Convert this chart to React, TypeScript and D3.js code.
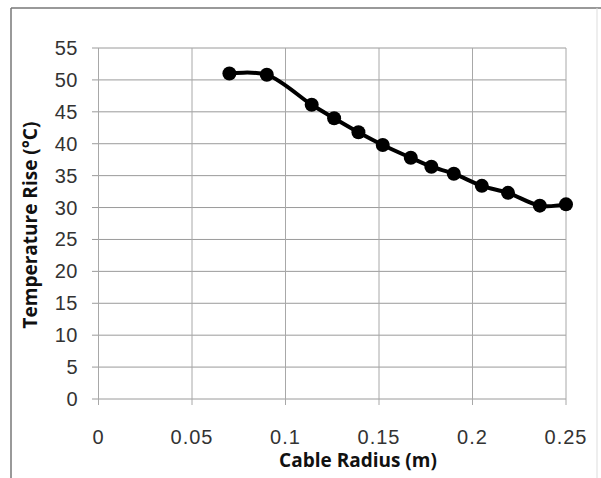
import React from "react";
import * as d3 from "d3";

const radius = [0.07, 0.09, 0.114, 0.126, 0.139, 0.152, 0.167, 0.178, 0.19, 0.205, 0.219, 0.236, 0.25];
const tempRise = [51.0, 50.8, 46.1, 44.0, 41.8, 39.8, 37.8, 36.4, 35.3, 33.4, 32.3, 30.3, 30.5];
const xTicks = [0, 0.05, 0.1, 0.15, 0.2, 0.25];
const yTicks = [0, 5, 10, 15, 20, 25, 30, 35, 40, 45, 50, 55];
const xTitle = "Cable Radius (m)";
const yTitle = "Temperature Rise (°C)";

export default function App() {
  const W = 601, H = 478;
  const x = d3.scaleLinear().domain([0, 0.25]).range([98.5, 566]);
  const y = d3.scaleLinear().domain([0, 55]).range([399, 48]);
  const line = d3
    .line<number>()
    .x((_, i) => x(radius[i]))
    .y((d) => y(d))
    .curve(d3.curveCatmullRom.alpha(0.5));
  const tickFont = "'Liberation Sans', Arial, sans-serif";
  const titleFont = "'Open Sans', sans-serif";
  return (
    <svg width={W} height={H} style={{ position: "absolute", left: 0, top: 0, background: "#fff" }}>
      <rect x={0} y={0} width={W} height={H} fill="#fff" />
      {/* outer frame */}
      <line x1={11} y1={8} x2={601} y2={8} stroke="#777" strokeWidth={1.5} />
      <line x1={11} y1={8} x2={11} y2={478} stroke="#777" strokeWidth={1.5} />
      <line x1={597} y1={8} x2={597} y2={478} stroke="#ddd" strokeWidth={1} />
      {/* grid */}
      {yTicks.map((t) => (
        <line key={"h" + t} x1={92} x2={x(0.25)} y1={y(t)} y2={y(t)} stroke="#9a9a9a" strokeWidth={1} />
      ))}
      {xTicks.map((t) => (
        <line key={"v" + t} x1={x(t)} x2={x(t)} y1={y(55)} y2={405} stroke="#a8a8a8" strokeWidth={1} />
      ))}
      {/* tick labels */}
      {yTicks.map((t) => (
        <text
          key={"yl" + t}
          x={78}
          y={y(t) + 7}
          textAnchor="end"
          fontFamily={tickFont}
          fontSize={20}
          letterSpacing={0.5}
          fill="#333"
        >
          {t}
        </text>
      ))}
      {xTicks.map((t) => (
        <text
          key={"xl" + t}
          x={x(t)}
          y={444}
          textAnchor="middle"
          fontFamily={tickFont}
          fontSize={20}
          letterSpacing={1}
          fill="#333"
        >
          {String(t)}
        </text>
      ))}
      {/* titles */}
      <text x={358} y={467} textAnchor="middle" fontFamily={titleFont} fontWeight={700} fontSize={19} fill="#111">
        {xTitle}
      </text>
      <text
        transform={`translate(37,225) rotate(-90)`}
        textAnchor="middle"
        fontFamily={titleFont}
        fontWeight={700}
        fontSize={19}
        fill="#111"
      >
        {yTitle}
      </text>
      {/* series */}
      <path d={line(tempRise) || ""} fill="none" stroke="#000" strokeWidth={4} strokeLinejoin="round" />
      {tempRise.map((v, i) => (
        <circle key={"p" + i} cx={x(radius[i])} cy={y(v)} r={7} fill="#000" />
      ))}
    </svg>
  );
}
